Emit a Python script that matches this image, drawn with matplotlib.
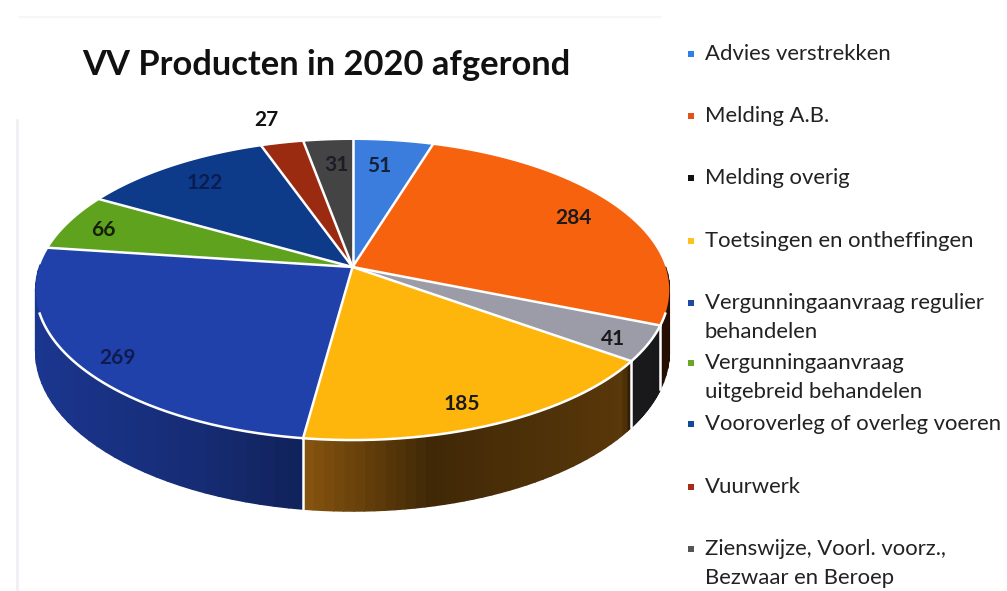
import numpy as np
import matplotlib
matplotlib.use("Agg")
import matplotlib.pyplot as plt
from matplotlib.collections import PolyCollection
from matplotlib.colors import to_rgb

plt.rcParams['font.family'] = ['Lato', 'DejaVu Sans']

# slices clockwise from the top
waarden = [51, 284, 41, 185, 269, 66, 122, 27, 31]
kleuren = ['#3a7ddc', '#f7620f', '#9c9ca8', '#ffb60c', '#2040aa',
           '#5ea21e', '#0e3a8a', '#9a2a10', '#444444']
wand_kleuren = ['#3a7ddc', '#f7620f', '#9c9ca8', '#ffa01c', '#2040aa',
                '#5ea21e', '#0e3a8a', '#9a2a10', '#444444']
legend_namen = ['Advies verstrekken', 'Melding A.B.', 'Melding overig',
                'Toetsingen en ontheffingen',
                'Vergunningaanvraag regulier\nbehandelen',
                'Vergunningaanvraag\nuitgebreid behandelen',
                'Vooroverleg of overleg voeren', 'Vuurwerk',
                'Zienswijze, Voorl. voorz.,\nBezwaar en Beroep']
legend_kleuren = ['#2f7fe6', '#e2521c', '#111111', '#ffc020', '#1f4aa0',
                  '#6aa52c', '#124a9a', '#a82a18', '#555555']

# layout in pixels
cx, cy = 352.5, 267
R, A, k = 313, 146.5, 0.1535
diepte = 60
label_pos = [(379, 166), (573, 218), (613, 339), (462, 404), (118, 358),
             (103, 230), (205, 183), (266, 120), (336, 165)]
legend_y = [54, 116, 178, 241, 303, 363, 424, 487, 549]


def proj(theta):
    u, v = np.sin(theta), np.cos(theta)
    s = 1 / (1 + k * v)
    return cx + R * u * s, cy - A * v * s


def wand(theta):
    return diepte / (1 + k * np.cos(theta))


def schaduw(x):
    return np.interp(x, [30, 200, 303, 430, 622, 630, 680],
                     [0.85, 0.68, 0.53, 0.25, 0.35, 0.17, 0.14])


fig = plt.figure(figsize=(10.07, 5.91), dpi=100)
ax = fig.add_axes([0, 0, 1, 1])
ax.set_xlim(0, 1007)
ax.set_ylim(591, 0)
ax.axis('off')

# faint scan edges
ax.plot([17, 17], [120, 591], color='#f0f0f4', lw=2)
ax.plot([20, 660], [17, 17], color='#f6f6f6', lw=1.5)

grenzen = np.r_[0, np.cumsum(waarden)] / np.sum(waarden) * 2 * np.pi

# side wall, cut in thin strips for the shading
vlakken, vlak_kleur = [], []
for i, kleur in enumerate(wand_kleuren):
    t = np.linspace(grenzen[i], grenzen[i + 1], 40)
    rgb = np.array(to_rgb(kleur))
    for a, b in zip(t[:-1], t[1:]):
        if np.cos((a + b) / 2) > 0:
            continue
        xa, ya = proj(a)
        xb, yb = proj(b)
        vlakken.append([(xa, ya), (xb, yb), (xb, yb + wand(b)), (xa, ya + wand(a))])
        vlak_kleur.append(tuple(rgb * schaduw((xa + xb) / 2)))
ax.add_collection(PolyCollection(vlakken, facecolors=vlak_kleur,
                                 edgecolors=vlak_kleur, linewidths=1.2))

# white seams on the wall
for g in grenzen[:-1]:
    if np.cos(g) < -0.3:
        x, y = proj(g)
        ax.plot([x, x], [y, y + wand(g)], color='white', lw=1.8, zorder=3)

# top of the pie
for i, kleur in enumerate(kleuren):
    t = np.linspace(grenzen[i], grenzen[i + 1], 120)
    x, y = proj(t)
    ax.fill(np.r_[cx, x], np.r_[cy, y], color=kleur, lw=0, zorder=4)
for g in grenzen[:-1]:
    x, y = proj(g)
    ax.plot([cx, x], [cy, y], color='white', lw=1.8, zorder=5)
t = np.linspace(0, 2 * np.pi, 720)
t = t[np.cos(t) < -0.3]
x, y = proj(t)
ax.plot(x, y, color='white', lw=1.8, zorder=5)

# data labels
for waarde, (lx, ly), kl in zip(waarden, label_pos,
                                ['#14213d', '#1a1a1a', '#1a1a1a', '#1a1a1a', '#101c50',
                                 '#152008', '#0a1c50', '#111111', '#1c1c28']):
    ax.text(lx, ly, str(waarde), ha='center', va='center', fontsize=15,
            fontweight='bold', color=kl, zorder=6)

ax.text(82, 65, 'VV Producten in 2020 afgerond', ha='left', va='center',
        fontsize=24.8, fontweight='bold', color='#111111')

# legend
for naam, kleur, ly in zip(legend_namen, legend_kleuren, legend_y):
    ax.plot([691], [ly], marker='s', ms=4.5, color=kleur, mew=0)
    for j, regel in enumerate(naam.split('\n')):
        ax.text(705, ly + j * 28.5, regel, ha='left', va='center', fontsize=15.9,
                color='#222222')

fig.savefig('out.png', dpi=100, facecolor='white')
